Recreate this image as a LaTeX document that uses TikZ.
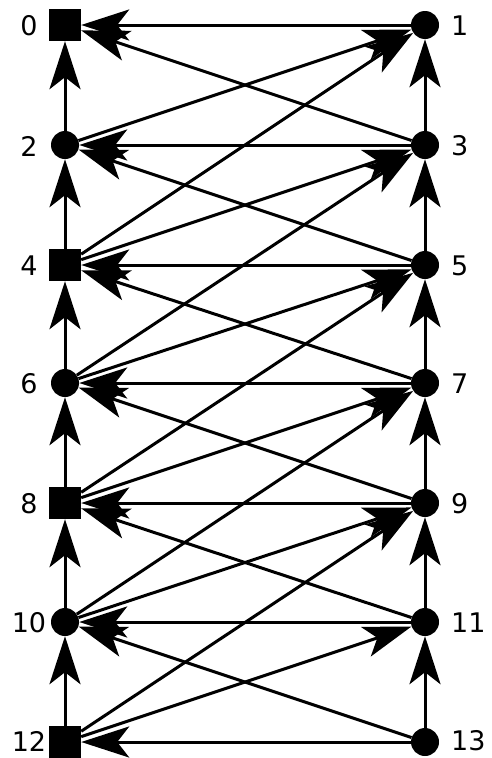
\documentclass[tikz,border=0pt]{standalone}
\usepackage{fontspec}
\setmainfont{DejaVu Sans}
\usetikzlibrary{arrows.meta}
\begin{document}
\begin{tikzpicture}[x=1pt,y=-1pt,
  sq/.style={rectangle,fill=black,draw=none,minimum size=32pt,inner sep=0pt},
  ci/.style={circle,fill=black,draw=none,minimum size=28pt,inner sep=0pt},
  lbl/.style={font=\fontsize{27}{27}\selectfont,inner sep=0pt},
  edge/.style={line width=3pt,-{Stealth[length=48pt 0,width=31pt 0,inset=12pt 0]}}]
\useasboundingbox (0,0) rectangle (492,758);
% left column
\node[sq] (n0) at (65,25) {};
\node[ci] (n2) at (65,145) {};
\node[sq] (n4) at (65,265) {};
\node[ci] (n6) at (65,383) {};
\node[sq] (n8) at (65,503) {};
\node[ci] (n10) at (65,622) {};
\node[sq] (n12) at (65,742) {};
% right column
\node[ci] (n1) at (425,25) {};
\node[ci] (n3) at (425,145) {};
\node[ci] (n5) at (425,265) {};
\node[ci] (n7) at (425,383) {};
\node[ci] (n9) at (425,503) {};
\node[ci] (n11) at (425,622) {};
\node[ci] (n13) at (425,742) {};
% edges
\foreach \i in {0,...,12}{
  \foreach \d in {1,2,3}{
    \pgfmathtruncatemacro{\j}{\i+\d}
    \ifnum\j<14 \draw[edge] (n\j) -- (n\i); \fi
  }
}
% labels
\foreach \k/\y in {0/25,2/145,4/265,6/383,8/503,10/622,12/740}{
  \node[lbl] (l\k) at (29,\y+1) {\k};
}
\foreach \k/\y in {1/25,3/145,5/265,7/383,9/503,11/622,13/740}{
  \node[lbl,anchor=west] (l\k) at (451,\y+1) {\k};
}
\end{tikzpicture}
\end{document}
